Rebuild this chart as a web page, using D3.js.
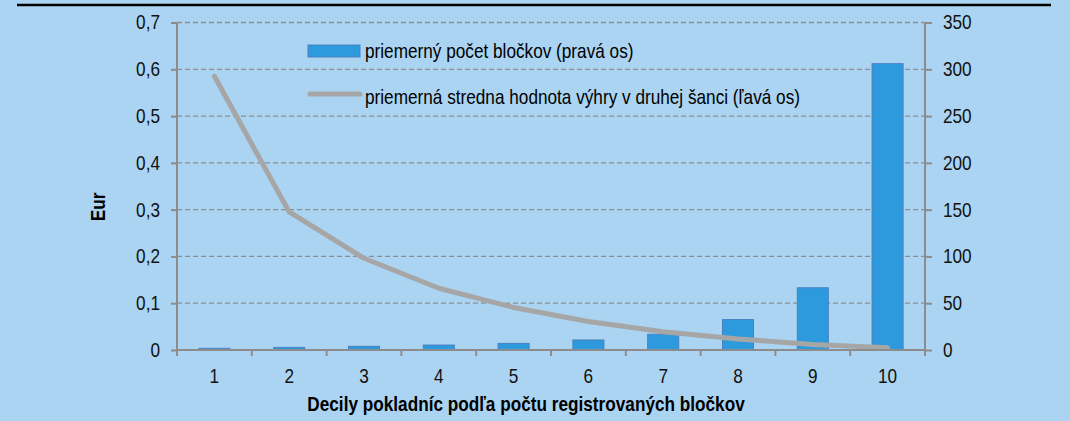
<!DOCTYPE html>
<html>
<head>
<meta charset="utf-8">
<script src="https://cdn.jsdelivr.net/npm/d3@7"></script>
<style>
  body { margin: 0; background: #abd4f2; }
  svg { display: block; font-family: "Liberation Sans", Arial, sans-serif; }
  /* the source text is a little narrow and tall */
  .sx-start, .sx-mid, .sx-end { transform-box: fill-box; transform: scaleX(0.86); }
  .sx-start { transform-origin: 0% 50%; }
  .sx-mid { transform-origin: 50% 50%; }
  .sx-end { transform-origin: 100% 50%; }
</style>
</head>
<body>
<div id="chart"></div>
<script>
// deciles on the x axis
var deciles = ["1", "2", "3", "4", "5", "6", "7", "8", "9", "10"];
// average number of receipts (right axis)
var receipts = [1.8, 2.8, 3.9, 5.3, 7.1, 10.7, 16.8, 32.5, 66.5, 306];
// average expected win value in second chance, Eur (left axis)
var winValue = [0.585, 0.295, 0.196, 0.132, 0.091, 0.061, 0.039, 0.0235, 0.012, 0.005];
var leftTicks = [0, 0.1, 0.2, 0.3, 0.4, 0.5, 0.6, 0.7];
var rightTicks = [0, 50, 100, 150, 200, 250, 300, 350];

var svgWidth = 1070, svgHeight = 421;
var margin = { top: 22.5, right: 145, bottom: 71, left: 177 };
var width = svgWidth - margin.left - margin.right;
var height = svgHeight - margin.top - margin.bottom;

var svg = d3.select("#chart").append("svg")
  .attr("width", svgWidth)
  .attr("height", svgHeight);

// top rule
svg.append("line")
  .attr("x1", 17).attr("x2", 1051)
  .attr("y1", 5).attr("y2", 5)
  .attr("stroke", "#000").attr("stroke-width", 2.5);

var g = svg.append("g")
  .attr("transform", `translate(${margin.left}, ${margin.top})`);

var x = d3.scaleBand().domain(deciles).range([0, width]).paddingInner(0.585).paddingOuter(0.2925);
var xb = d3.scaleBand().domain(deciles).range([0, width]);
var yL = d3.scaleLinear().domain([0, 0.7]).range([height, 0]);
var yR = d3.scaleLinear().domain([0, 350]).range([height, 0]);

// grid
g.selectAll(".grid").data(leftTicks.slice(1))
  .enter().append("line")
  .attr("x1", 0).attr("x2", width)
  .attr("y1", d => yL(d)).attr("y2", d => yL(d))
  .attr("stroke", "#8e8e8e").attr("stroke-width", 1.3)
  .attr("stroke-dasharray", "5,3");

// bars
g.selectAll(".bar").data(receipts)
  .enter().append("rect")
  .attr("x", (d, i) => x(deciles[i]))
  .attr("width", x.bandwidth())
  .attr("y", d => yR(d))
  .attr("height", d => height - yR(d))
  .attr("fill", "#2e9ade")
  .attr("stroke", "#4a80c0").attr("stroke-width", 1);

// line
var line = d3.line()
  .x((d, i) => xb(deciles[i]) + xb.bandwidth() / 2)
  .y(d => yL(d));
g.append("path").datum(winValue)
  .attr("d", line)
  .attr("fill", "none")
  .attr("stroke", "#a6a6a6").attr("stroke-width", 5)
  .attr("stroke-linecap", "round").attr("stroke-linejoin", "round");

// axes
var axisColor = "#8c8c8c";
var leftAxis = d3.axisLeft(yL).tickValues(leftTicks)
  .tickFormat(d => d === 0 ? "0" : d3.format(".1f")(d).replace(".", ","))
  .tickSize(6).tickPadding(11);
var rightAxis = d3.axisRight(yR).tickValues(rightTicks).tickSize(7).tickPadding(11);
var bottomAxis = d3.axisBottom(xb).tickSize(6).tickPadding(12.5);

function styleAxis(sel, cls) {
  sel.select(".domain").attr("stroke", axisColor).attr("stroke-width", 2);
  sel.selectAll(".tick line").attr("stroke", axisColor).attr("stroke-width", 2);
  sel.selectAll("text").attr("fill", "#111").attr("class", cls).style("font-size", "20px");
  sel.attr("font-family", null);
}

var gl = g.append("g").call(leftAxis).call(styleAxis, "sx-end");
gl.select(".domain").attr("d", `M0,${height}V0`);
var gr = g.append("g").attr("transform", `translate(${width},0)`).call(rightAxis).call(styleAxis, "sx-start");
gr.select(".domain").attr("d", `M0,${height}V0`);
var gb = g.append("g").attr("transform", `translate(0,${height})`).call(bottomAxis).call(styleAxis, "sx-mid");
gb.selectAll(".tick line").attr("transform", `translate(${-xb.bandwidth() / 2},0)`);
gb.select(".domain").attr("d", `M0,0H${width}`);
gb.append("line")
  .attr("x1", width).attr("x2", width).attr("y1", 0).attr("y2", 6)
  .attr("stroke", axisColor).attr("stroke-width", 2);

// axis titles
svg.append("text")
  .attr("transform", "translate(105,207) rotate(-90) scale(0.86,1)")
  .attr("text-anchor", "middle")
  .style("font-size", "20px").style("font-weight", "bold")
  .text("Eur");
svg.append("text")
  .attr("class", "sx-mid")
  .attr("x", 526).attr("y", 411)
  .attr("text-anchor", "middle")
  .style("font-size", "20px").style("font-weight", "bold")
  .text("Decily pokladníc podľa počtu registrovaných bločkov");

// legend
var legend = svg.append("g").attr("transform", "translate(308,0)");
legend.append("rect")
  .attr("x", 0).attr("y", 45).attr("width", 52).attr("height", 12)
  .attr("fill", "#2e9ade").attr("stroke", "#4a80c0").attr("stroke-width", 1);
legend.append("line")
  .attr("x1", 2).attr("x2", 52).attr("y1", 94).attr("y2", 94)
  .attr("stroke", "#a6a6a6").attr("stroke-width", 5).attr("stroke-linecap", "round");
legend.append("text").attr("class", "sx-start").attr("x", 57).attr("y", 58)
  .style("font-size", "20px").text("priemerný počet bločkov (pravá os)");
legend.append("text").attr("class", "sx-start").attr("x", 57).attr("y", 104)
  .style("font-size", "20px").text("priemerná stredna hodnota výhry v druhej šanci (ľavá os)");
</script>
</body>
</html>
